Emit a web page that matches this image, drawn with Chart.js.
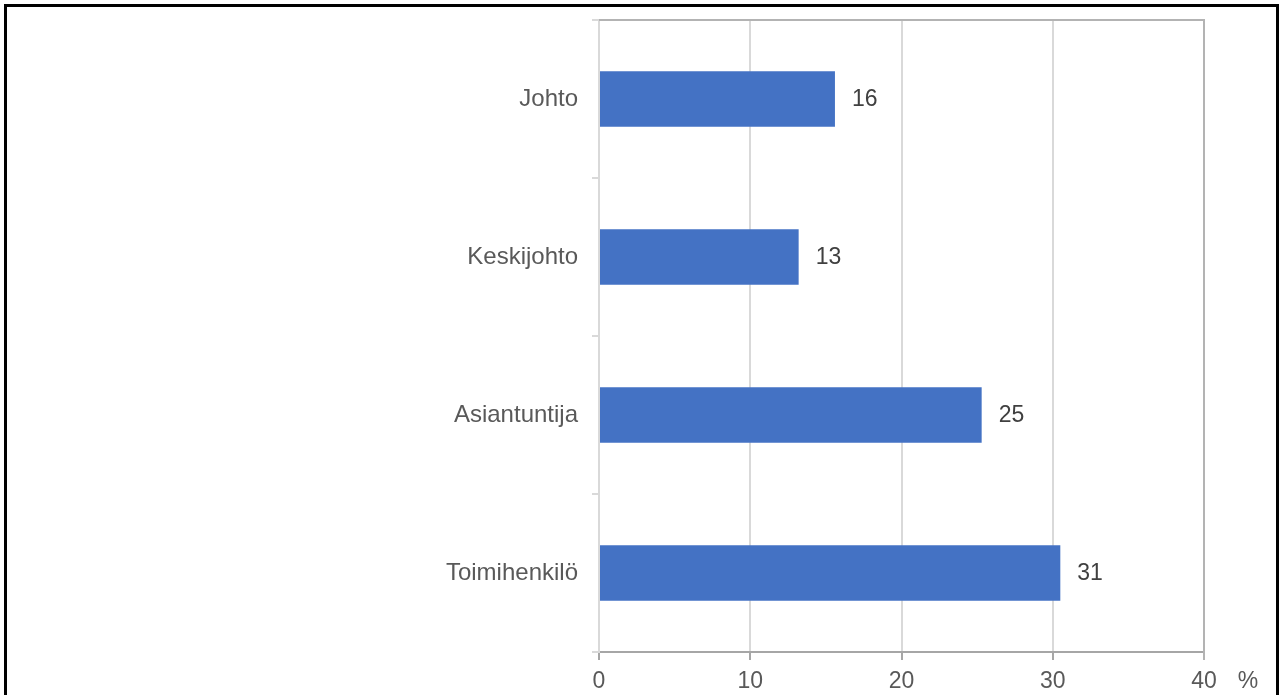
<!DOCTYPE html>
<html>
<head>
<meta charset="utf-8">
<script src="https://cdn.jsdelivr.net/npm/chart.js@4/dist/chart.umd.min.js"></script>
<style>
  html, body { margin: 0; padding: 0; background: #fff; overflow: hidden; }
  #wrap { position: relative; width: 1280px; height: 695px; }
  #frame { position: absolute; left: 4px; top: 4px; width: 1275px; height: 800px;
           box-sizing: border-box; border: 3px solid #000; pointer-events: none; }
  canvas { position: absolute; left: 0; top: 0; }
</style>
</head>
<body>
<div id="wrap">
  <canvas id="myChart" width="1280" height="695"></canvas>
  <div id="frame"></div>
</div>
<script>
// values (labels show the rounded ones)
const categories = ['Johto', 'Keskijohto', 'Asiantuntija', 'Toimihenkilö'];
const shares = [15.6, 13.2, 25.3, 30.5];
const shareLabels = ['16', '13', '25', '31'];
const xTicks = [0, 10, 20, 30, 40];
const unitLabel = '%';

const FONT = "'Liberation Sans', Arial, sans-serif";

// value labels at the end of each bar
const barLabels = {
    id: 'barLabels',
    afterDatasetsDraw(chart) {
        const ctx = chart.ctx;
        const meta = chart.getDatasetMeta(0);
        ctx.save();
        ctx.font = '23px ' + FONT;
        ctx.fillStyle = '#404040';
        ctx.textAlign = 'left';
        ctx.textBaseline = 'middle';
        meta.data.forEach(function(bar, i) {
            ctx.fillText(shareLabels[i], bar.x + 17, bar.y + 1);
        });
        ctx.restore();
    }
};

// top + right border of the plot, and the % unit after the last tick
const plotFrame = {
    id: 'plotFrame',
    afterDraw(chart) {
        const ctx = chart.ctx;
        const a = chart.chartArea;
        const xs = chart.scales.x;
        ctx.save();
        ctx.strokeStyle = '#b3b3b3';
        ctx.lineWidth = 2;
        ctx.beginPath();
        ctx.moveTo(a.left, a.top);
        ctx.lineTo(a.right, a.top);
        ctx.lineTo(a.right, a.bottom + 8);
        ctx.stroke();
        ctx.font = '23px ' + FONT;
        ctx.fillStyle = '#595959';
        ctx.textAlign = 'center';
        ctx.textBaseline = 'top';
        ctx.fillText(unitLabel, xs.getPixelForValue(xTicks[xTicks.length - 1]) + 44, a.bottom + 18);
        ctx.restore();
    }
};

const ctx = document.getElementById('myChart').getContext('2d');
let myChart = new Chart(ctx, {
    type: 'bar',
    data: {
        labels: categories,
        datasets: [{
            data: shares,
            backgroundColor: '#4472c4',
            borderWidth: 0,
            barPercentage: 0.35,
            categoryPercentage: 1
        }]
    },
    options: {
        indexAxis: 'y',
        responsive: false,
        animation: false,
        devicePixelRatio: 1,
        layout: { padding: { top: 20, right: 76, left: 0, bottom: 0 } },
        plugins: {
            legend: { display: false },
            tooltip: { enabled: false }
        },
        scales: {
            x: {
                min: xTicks[0],
                max: xTicks[xTicks.length - 1],
                afterFit: function(scale) {
                    scale.height = 43;
                    scale.paddingLeft = 0;
                    scale.paddingRight = 0;
                },
                afterBuildTicks: function(scale) {
                    scale.ticks = xTicks.map(v => ({ value: v }));
                },
                grid: { color: '#d9d9d9', lineWidth: 2, tickColor: '#a6a6a6', tickLength: 8 },
                border: { color: '#a6a6a6', width: 2 },
                ticks: {
                    padding: 8,
                    color: '#595959',
                    font: { size: 23, family: FONT }
                }
            },
            y: {
                afterFit: function(scale) {
                    scale.width = 599;
                    scale.paddingTop = 0;
                    scale.paddingBottom = 0;
                },
                grid: { drawOnChartArea: false, color: '#d9d9d9', lineWidth: 2, tickLength: 7 },
                border: { color: '#d9d9d9', width: 2 },
                ticks: {
                    padding: 14,
                    color: '#595959',
                    font: { size: 24, family: FONT }
                }
            }
        }
    },
    plugins: [barLabels, plotFrame]
});
</script>
</body>
</html>
